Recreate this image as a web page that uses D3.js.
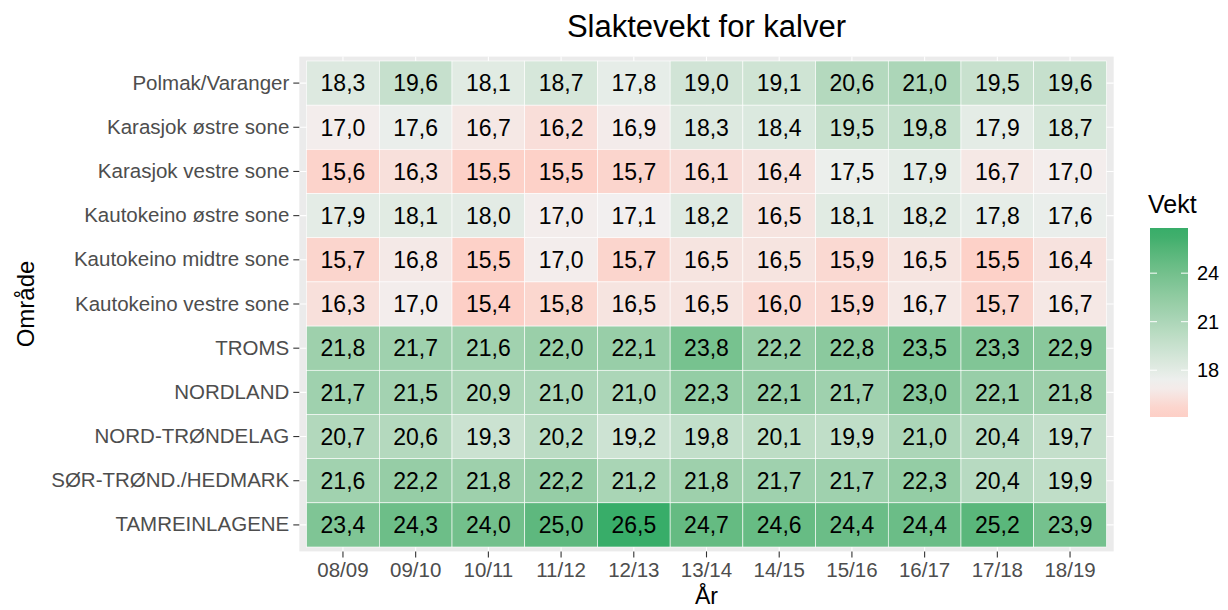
<!doctype html>
<html>
<head>
  <meta charset="utf-8">
  <title>Slaktevekt for kalver</title>
  <style>
    body { margin: 0; background: #fff; font-family: 'Liberation Sans', Arial, sans-serif; }
    .tick-lab { fill: #4d4d4d; font-size: 20.5px; }
  </style>
</head>
<body>
  <div id="chart"></div>
  <script src="https://cdnjs.cloudflare.com/ajax/libs/d3/7.8.5/d3.min.js"></script>
  <script>
    // data
    var years = ["08/09", "09/10", "10/11", "11/12", "12/13", "13/14", "14/15", "15/16", "16/17", "17/18", "18/19"];
    var areas = ["Polmak/Varanger", "Karasjok østre sone", "Karasjok vestre sone", "Kautokeino østre sone",
      "Kautokeino midtre sone", "Kautokeino vestre sone", "TROMS", "NORDLAND", "NORD-TRØNDELAG",
      "SØR-TRØND./HEDMARK", "TAMREINLAGENE"];
    var weights = [
      [18.3, 19.6, 18.1, 18.7, 17.8, 19.0, 19.1, 20.6, 21.0, 19.5, 19.6],
      [17.0, 17.6, 16.7, 16.2, 16.9, 18.3, 18.4, 19.5, 19.8, 17.9, 18.7],
      [15.6, 16.3, 15.5, 15.5, 15.7, 16.1, 16.4, 17.5, 17.9, 16.7, 17.0],
      [17.9, 18.1, 18.0, 17.0, 17.1, 18.2, 16.5, 18.1, 18.2, 17.8, 17.6],
      [15.7, 16.8, 15.5, 17.0, 15.7, 16.5, 16.5, 15.9, 16.5, 15.5, 16.4],
      [16.3, 17.0, 15.4, 15.8, 16.5, 16.5, 16.0, 15.9, 16.7, 15.7, 16.7],
      [21.8, 21.7, 21.6, 22.0, 22.1, 23.8, 22.2, 22.8, 23.5, 23.3, 22.9],
      [21.7, 21.5, 20.9, 21.0, 21.0, 22.3, 22.1, 21.7, 23.0, 22.1, 21.8],
      [20.7, 20.6, 19.3, 20.2, 19.2, 19.8, 20.1, 19.9, 21.0, 20.4, 19.7],
      [21.6, 22.2, 21.8, 22.2, 21.2, 21.8, 21.7, 21.7, 22.3, 20.4, 19.9],
      [23.4, 24.3, 24.0, 25.0, 26.5, 24.7, 24.6, 24.4, 24.4, 25.2, 23.9]
    ];
    var legendTicks = [18, 21, 24];

    var width = 1228, height = 610;
    var cells = [];
    areas.forEach((a, i) => years.forEach((y, j) => cells.push({ area: a, year: y, value: weights[i][j] })));

    var svg = d3.select("#chart").append("svg").attr("width", width).attr("height", height);

    var panel = { left: 299.3, right: 1113.7, top: 56.6, bottom: 551.4 };
    var tileX = [306.6, 1106.4], tileY = [61, 547];

    var x = d3.scaleBand().domain(years).range(tileX);
    var y = d3.scaleBand().domain(areas).range(tileY);

    var ext = d3.extent(cells, d => d.value);
    var color = d3.scaleLinear()
      .domain([ext[0], 17.2, ext[1]])
      .range(["#fdcfc6", "#f1f1f1", "#38ad69"])
      .interpolate(d3.interpolateLab);

    // panel background
    svg.append("rect")
      .attr("x", panel.left).attr("y", panel.top)
      .attr("width", panel.right - panel.left).attr("height", panel.bottom - panel.top)
      .attr("fill", "#ebebeb");

    // grid lines
    svg.append("g").selectAll("line").data(years).join("line")
      .attr("x1", d => x(d) + x.bandwidth() / 2).attr("x2", d => x(d) + x.bandwidth() / 2)
      .attr("y1", panel.top).attr("y2", panel.bottom)
      .attr("stroke", "#fff").attr("stroke-width", 1.1);
    svg.append("g").selectAll("line").data(areas).join("line")
      .attr("y1", d => y(d) + y.bandwidth() / 2).attr("y2", d => y(d) + y.bandwidth() / 2)
      .attr("x1", panel.left).attr("x2", panel.right)
      .attr("stroke", "#fff").attr("stroke-width", 1.1);

    // tiles
    svg.append("g").selectAll("rect").data(cells).join("rect")
      .attr("x", d => x(d.year)).attr("y", d => y(d.area))
      .attr("width", x.bandwidth()).attr("height", y.bandwidth())
      .attr("fill", d => color(d.value))
      .attr("stroke", "#fff").attr("stroke-width", 0.6);

    svg.append("g").selectAll("text").data(cells).join("text")
      .attr("x", d => x(d.year) + x.bandwidth() / 2)
      .attr("y", d => y(d.area) + y.bandwidth() / 2)
      .attr("dy", "0.36em")
      .attr("text-anchor", "middle")
      .attr("font-size", 23)
      .attr("fill", "#000")
      .text(d => d3.format(".1f")(d.value).replace(".", ","));

    // axes
    var xAxis = d3.axisBottom(x).tickSize(6).tickPadding(5);
    var gx = svg.append("g").attr("transform", `translate(0,${panel.bottom})`).call(xAxis);
    gx.select(".domain").remove();
    gx.selectAll(".tick line").attr("stroke", "#333").attr("stroke-width", 1.1);
    gx.selectAll(".tick text").attr("class", "tick-lab").attr("font-family", null).attr("font-size", null);

    var yAxis = d3.axisLeft(y).tickSize(6).tickPadding(4);
    var gy = svg.append("g").attr("transform", `translate(${panel.left},0)`).call(yAxis);
    gy.select(".domain").remove();
    gy.selectAll(".tick line").attr("stroke", "#333").attr("stroke-width", 1.1);
    gy.selectAll(".tick text").attr("class", "tick-lab").attr("font-family", null).attr("font-size", null);

    // titles
    svg.append("text").attr("x", (panel.left + panel.right) / 2).attr("y", 37)
      .attr("text-anchor", "middle").attr("font-size", 31).attr("fill", "#000")
      .text("Slaktevekt for kalver");
    svg.append("text").attr("x", (panel.left + panel.right) / 2).attr("y", 604)
      .attr("text-anchor", "middle").attr("font-size", 23).attr("fill", "#000")
      .text("År");
    svg.append("text")
      .attr("transform", `translate(34,${(panel.top + panel.bottom) / 2}) rotate(-90)`)
      .attr("text-anchor", "middle").attr("font-size", 24).attr("fill", "#000")
      .text("Område");

    // legend
    var lg = { x: 1150, w: 38, top: 228, bottom: 417 };
    var L = lg.bottom - lg.top;
    var ly = d3.scaleLinear().domain(ext).range([lg.bottom - 0.025 * L, lg.top + 0.025 * L]);

    var defs = svg.append("defs");
    var grad = defs.append("linearGradient").attr("id", "vekt").attr("x1", 0).attr("y1", 1).attr("x2", 0).attr("y2", 0);
    d3.range(0, 1.0001, 0.05).forEach(t => {
      var v = ly.invert(lg.bottom - t * L);
      v = Math.max(ext[0], Math.min(ext[1], v));
      grad.append("stop").attr("offset", t).attr("stop-color", color(v));
    });
    svg.append("text").attr("x", lg.x - 2).attr("y", 213).attr("font-size", 25).attr("fill", "#000").text("Vekt");
    svg.append("rect").attr("x", lg.x).attr("y", lg.top).attr("width", lg.w).attr("height", L).attr("fill", "url(#vekt)");

    var lt = svg.append("g").selectAll("g").data(legendTicks).join("g");
    lt.append("line").attr("x1", lg.x).attr("x2", lg.x + 7).attr("y1", d => ly(d)).attr("y2", d => ly(d))
      .attr("stroke", "#fff").attr("stroke-width", 1);
    lt.append("line").attr("x1", lg.x + lg.w - 7).attr("x2", lg.x + lg.w).attr("y1", d => ly(d)).attr("y2", d => ly(d))
      .attr("stroke", "#fff").attr("stroke-width", 1);
    lt.append("text").attr("x", lg.x + lg.w + 9).attr("y", d => ly(d)).attr("dy", "0.35em")
      .attr("font-size", 20).attr("fill", "#000").text(d => d);
  </script>
</body>
</html>
